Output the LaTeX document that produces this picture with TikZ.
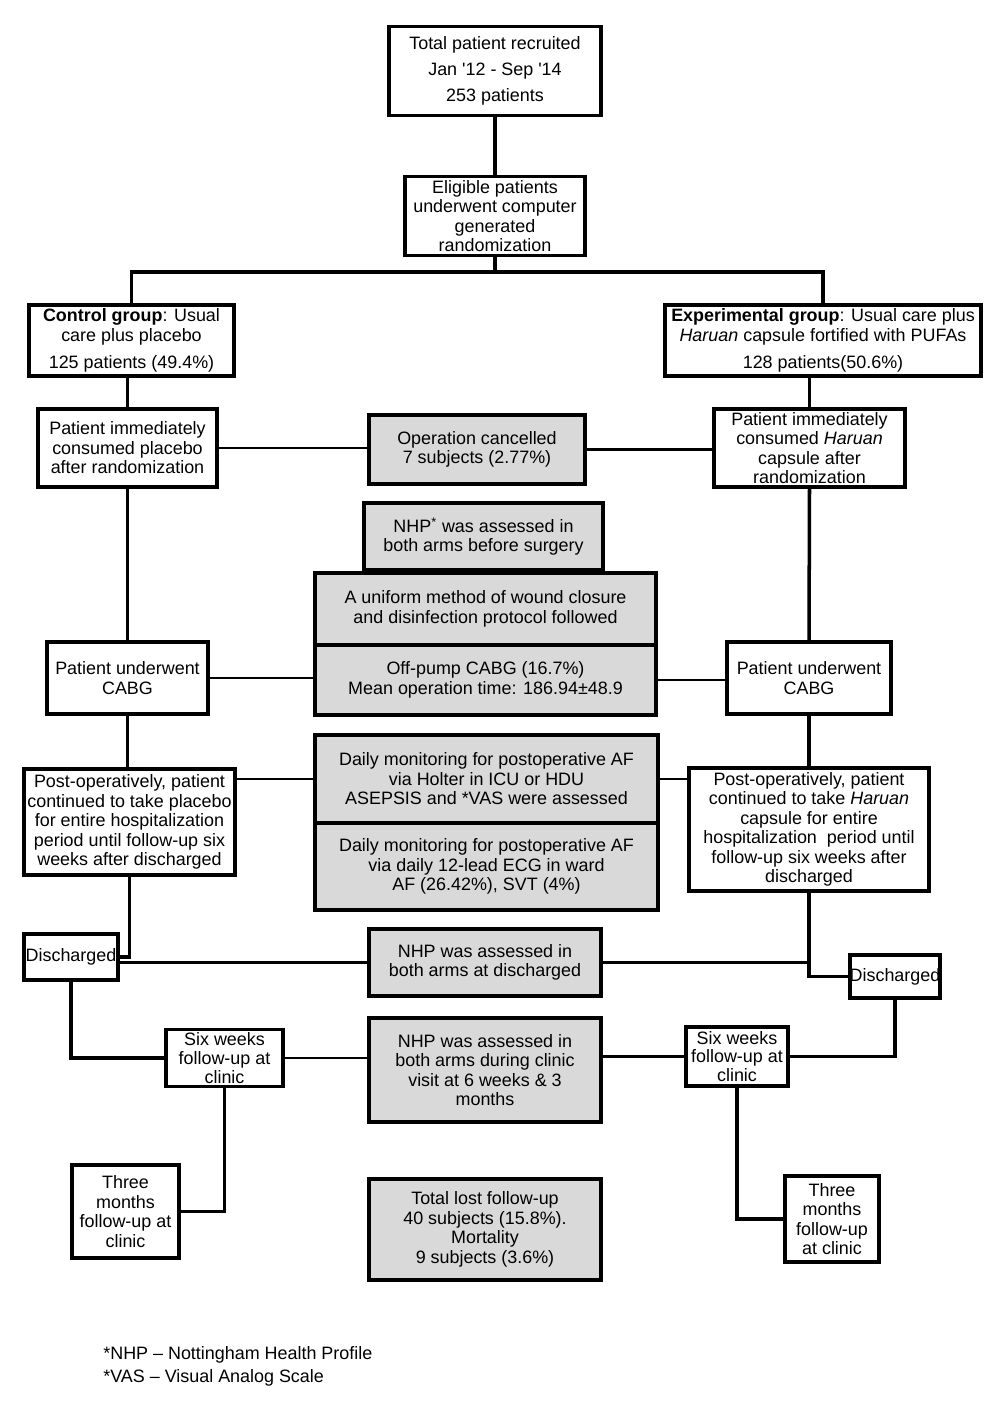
\documentclass[tikz,border=0pt]{standalone}
\usepackage{fontspec}
\setmainfont{Liberation Sans}
\definecolor{boxgray}{RGB}{217,217,217}

\begin{document}
\begin{tikzpicture}[x=0.2mm,y=-0.2mm,
  box/.style={draw,line width=2.2pt,fill=white,align=center,inner sep=0pt,
    font=\fontsize{10.2}{11.1}\selectfont},
  grey/.style={box,fill=boxgray},
  link/.style={line width=2pt},
  thin link/.style={line width=1.3pt},
  note/.style={anchor=west,inner sep=0pt,font=\fontsize{10.2}{11.1}\selectfont}]

\useasboundingbox[fill=white] (0,0) rectangle (1000,1409);

% recruitment and randomization
\node[box,minimum width=42.4mm,minimum height=17.8mm,font=\fontsize{10.2}{14.8}\selectfont] (total) at (495,71)
  {Total patient recruited\\Jan \textquotesingle12 - Sep \textquotesingle14\\253 patients};
\node[box,minimum width=36mm,minimum height=15.8mm] (elig) at (495,216)
  {Eligible patients\\underwent computer\\generated\\randomization};
\coordinate (split) at (495,272);

% the two arms
\node[box,minimum width=41mm,minimum height=14.2mm] (ctrl) at (131.5,340.5)
  {\textbf{Control group}: Usual\\care plus placebo\\[4.5pt]125 patients (49.4\%)};
\node[box,minimum width=63.2mm,minimum height=14.2mm] (exp) at (823,340.5)
  {\textbf{Experimental group}: Usual care plus\\\textit{Haruan} capsule fortified with PUFAs\\[4.5pt]128 patients(50.6\%)};

\node[box,minimum width=35.8mm,minimum height=15.6mm] (ctrlpill) at (127.5,448)
  {Patient immediately\\consumed placebo\\after randomization};
\node[box,minimum width=38.2mm,minimum height=15.6mm] (exppill) at (809.5,448)
  {Patient immediately\\consumed \textit{Haruan}\\capsule after\\randomization};

\node[box,minimum width=32.2mm,minimum height=14.4mm] (ctrlcabg) at (127.5,678)
  {Patient underwent\\CABG};
\node[box,minimum width=32.8mm,minimum height=14.4mm] (expcabg) at (809,678)
  {Patient underwent\\CABG};

\node[box,minimum width=42.2mm,minimum height=21.2mm] (ctrlpost) at (129.5,822)
  {Post-operatively, patient\\continued to take placebo\\for entire hospitalization\\period until follow-up six\\weeks after discharged};
\node[box,minimum width=48mm,minimum height=24.6mm] (exppost) at (809,829.5)
  {Post-operatively, patient\\continued to take \textit{Haruan}\\capsule for entire\\hospitalization\ \ period until\\follow-up six weeks after\\discharged};

\node[box,minimum width=18.8mm,minimum height=9.2mm] (ctrldis) at (71,957) {Discharged};
\node[box,minimum width=17.6mm,minimum height=8.6mm] (expdis) at (895,976.5) {Discharged};

\node[box,minimum width=23.4mm,minimum height=11.4mm,font=\fontsize{10.2}{10.6}\selectfont] (ctrlsix) at (224.5,1058)
  {Six weeks\\follow-up at\\clinic};
\node[box,minimum width=20.4mm,minimum height=11.8mm,font=\fontsize{10.2}{10.6}\selectfont] (expsix) at (737,1056.5)
  {Six weeks\\follow-up at\\clinic};

\node[box,minimum width=21.4mm,minimum height=18.6mm] (ctrlthree) at (125.5,1211.5)
  {Three\\months\\follow-up at\\clinic};
\node[box,minimum width=18.8mm,minimum height=17.2mm] (expthree) at (832,1219)
  {Three\\months\\follow-up\\at clinic};

% central column
\node[grey,minimum width=43.2mm,minimum height=13.8mm] (cancel) at (477,449.5)
  {Operation cancelled\\7 subjects (2.77\%)};
\node[grey,minimum width=47.8mm,minimum height=13.4mm] (nhpbefore) at (483.5,536.5)
  {NHP\textsuperscript{*} was assessed in\\both arms before surgery};
\node[grey,minimum width=68.2mm,minimum height=14.4mm] (wound) at (485.5,609)
  {A uniform method of wound closure\\and disinfection protocol followed};
\node[grey,minimum width=68.2mm,minimum height=14mm] (offpump) at (485.5,680)
  {Off-pump CABG (16.7\%)\\Mean operation time: 186.94±48.9};
\node[grey,minimum width=68.6mm,minimum height=17.6mm] (holter) at (486.5,779)
  {Daily monitoring for postoperative AF\\via Holter in ICU or HDU\\ASEPSIS and *VAS were assessed};
\node[grey,minimum width=68.6mm,minimum height=17.4mm] (ecg) at (486.5,866.5)
  {Daily monitoring for postoperative AF\\via daily 12-lead ECG in ward\\AF (26.42\%), SVT (4\%)};
\node[grey,minimum width=46.4mm,minimum height=13.4mm] (nhpdis) at (485,962.5)
  {NHP was assessed in\\both arms at discharged};
\node[grey,minimum width=46.4mm,minimum height=20.8mm] (nhpclinic) at (485,1070)
  {NHP was assessed in\\both arms during clinic\\visit at 6 weeks \& 3\\months};
\node[grey,minimum width=46.4mm,minimum height=20.2mm] (lost) at (485,1229.5)
  {Total lost follow-up\\40 subjects (15.8\%).\\Mortality\\9 subjects (3.6\%)};

% footnotes
\node[note] (nhpnote) at (103,1355) {*NHP -- Nottingham Health Profile};
\node[note] (vasnote) at (103,1378) {*VAS -- Visual Analog Scale};

% spine of each arm
\draw[link] (total.south) -- (elig.north);
\draw[link] (elig.south) -- (split);
\draw[link] (ctrl.north) |- (split) -| (exp.north);
\draw[link] (ctrlpill.north |- ctrl.south) -- (ctrlpill.north);
\draw[link] (exppill.north |- exp.south) -- (exppill.north);
\draw[link] (ctrlpill.south) -- (ctrlcabg.north);
\draw[link] (exppill.south) -- (expcabg.north);
\draw[link] (ctrlcabg.south) -- (ctrlcabg.south |- ctrlpost.north);
\draw[link] (expcabg.south) -- (expcabg.south |- exppost.north);
\draw[link] (ctrlpost.south) |- (ctrldis.east);
\draw[link] (exppost.south) |- (expdis.west);
\draw[link] (ctrldis.south) |- (ctrlsix.west);
\draw[link] (expdis.south) |- (expsix.east);
\draw[link] (ctrlsix.south) |- (ctrlthree.east);
\draw[link] (expsix.south) |- (expthree.west);

% links to the central column
\draw[thin link] (ctrlpill.east) -- (ctrlpill.east -| cancel.west);
\draw[thin link] (cancel.east) -- (cancel.east -| exppill.west);
\draw[thin link] (ctrlcabg.east) -- (ctrlcabg.east -| offpump.west);
\draw[thin link] (offpump.east) -- (offpump.east -| expcabg.west);
\draw[thin link] (holter.west -| ctrlpost.east) -- (holter.west);
\draw[thin link] (holter.east) -- (holter.east -| exppost.west);
\draw[thin link] (nhpdis.west -| ctrldis.east) -- (nhpdis.west);
\draw[thin link] (nhpdis.east) -- (nhpdis.east -| exppost.south);
\draw[thin link] (ctrlsix.east) -- (ctrlsix.east -| nhpclinic.west);
\draw[thin link] (expsix.west -| nhpclinic.east) -- (expsix.west);
\end{tikzpicture}
\end{document}
